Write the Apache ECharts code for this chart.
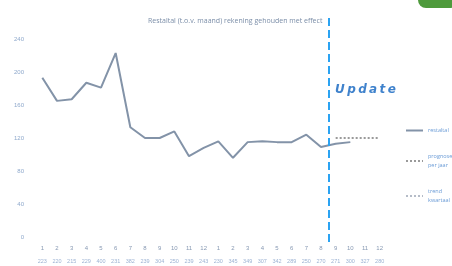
<!DOCTYPE html>
<html>
<head>
<meta charset="utf-8">
<script src="https://cdn.jsdelivr.net/npm/echarts@6/dist/echarts.min.js"></script>
<style>
  html, body { margin: 0; padding: 0; background: #fff; }
  #main { width: 452px; height: 266px; }
</style>
</head>
<body>
<div id="main"></div>
<script>
// maand-nummers (twee jaar) en de getallen eronder
const months = ["1","2","3","4","5","6","7","8","9","10","11","12",
                "1","2","3","4","5","6","7","8","9","10","11","12"];
const subLabels = ["223","220","215","229","400","231","382","239","304","250","239","243",
                   "230","345","349","307","342","289","250","270","271","300","327","280"];
const restaltal = [193,165,167,187,181,223,133,120,120,128,98,108,
                   116,96,115,116,115,115,124,109,113,115,null,null];
const prognose = [null,null,null,null,null,null,null,null,null,null,null,null,
                  null,null,null,null,null,null,null,null,120,120,120,120];
const trend = months.map(() => null);
const yTicks = { min: 0, max: 240, interval: 40 };
const updateAt = 19.55;

var myChart = echarts.init(document.querySelector("#main"));
const labelColor = "#8fa9cc";
const options = {
  animation: false,
  title: {
    text: "Restaltal (t.o.v. maand) rekening gehouden met effect",
    left: 143,
    top: 12,
    textStyle: { fontSize: 7, fontWeight: "normal", color: "#7b8ea8", fontFamily: "Open Sans" }
  },
  legend: {
    orient: "vertical",
    left: 400,
    top: 121,
    itemWidth: 17,
    itemHeight: 6,
    itemGap: 17,
    itemStyle: { opacity: 0 },
    textStyle: { fontSize: 5.5, color: "#6a9bd6", lineHeight: 9, fontFamily: "Open Sans" },
    data: ["restaltal", "prognose\nper jaar", "trend\nkwartaal"]
  },
  grid: [
    { left: 35, right: 65, top: 39, bottom: 29 },
    { left: 35, right: 65, top: 14, bottom: 24 }
  ],
  xAxis: [
    {
      type: "category",
      data: months,
      gridIndex: 0,
      axisLine: { show: false },
      axisTick: { show: false },
      axisLabel: {
        interval: 0,
        margin: 4,
        formatter: (v, i) => "{a|" + v + "}\n{b|" + subLabels[i] + "}",
        rich: {
          a: { fontSize: 6, color: "#8799b3", lineHeight: 14 },
          b: { fontSize: 5.5, color: "#9db3d3", lineHeight: 12 }
        }
      }
    },
    {
      type: "value",
      gridIndex: 1,
      min: -0.5,
      max: 23.5,
      show: false
    }
  ],
  yAxis: [
    {
      type: "value",
      gridIndex: 0,
      min: yTicks.min,
      max: yTicks.max,
      interval: yTicks.interval,
      splitLine: { show: false },
      axisLabel: { fontSize: 6, color: labelColor, margin: 11 }
    },
    { type: "value", gridIndex: 1, min: 0, max: 1, show: false }
  ],
  series: [
    {
      name: "restaltal",
      type: "line",
      data: restaltal,
      symbol: "none",
      lineStyle: { color: "#8393a8", width: 2 },
      itemStyle: { color: "#8393a8" }
    },
    {
      name: "prognose\nper jaar",
      type: "line",
      data: prognose,
      symbol: "none",
      lineStyle: { color: "#9a9a9a", width: 2, type: [2, 2] },
      itemStyle: { color: "#9a9a9a" },
      label: {
        show: true,
        position: "top",
        fontSize: 4,
        color: "#a9b6c8",
        formatter: (p) => (p.dataIndex === 22 ? "prognose" : "")
      }
    },
    {
      name: "trend\nkwartaal",
      type: "line",
      data: trend,
      symbol: "none",
      lineStyle: { color: "#b5bcc8", width: 1.5, type: [2, 2] },
      itemStyle: { color: "#b5bcc8" }
    },
    {
      type: "line",
      xAxisIndex: 1,
      yAxisIndex: 1,
      data: [],
      markLine: {
        silent: true,
        symbol: "none",
        label: { show: false },
        lineStyle: { color: "#2ba3f2", width: 2, type: [8, 4] },
        data: [{ xAxis: updateAt }]
      }
    }
  ],
  graphic: [
    {
      type: "text",
      left: 335,
      top: 84,
      style: {
        text: "U\u2009p\u2009d\u2009a\u2009t\u2009e",
        fontSize: 12,
        fontStyle: "italic",
        fontWeight: "bold",
        fontFamily: "DejaVu Sans",
        fill: "#3f82cc"
      }
    },
    {
      type: "rect",
      left: 418,
      top: -10,
      shape: { width: 40, height: 18, r: 8 },
      style: { fill: "#4e9a3c" }
    }
  ]
};
myChart.setOption(options);
window.onresize = function() {
  myChart.resize();
};
</script>
</body>
</html>
